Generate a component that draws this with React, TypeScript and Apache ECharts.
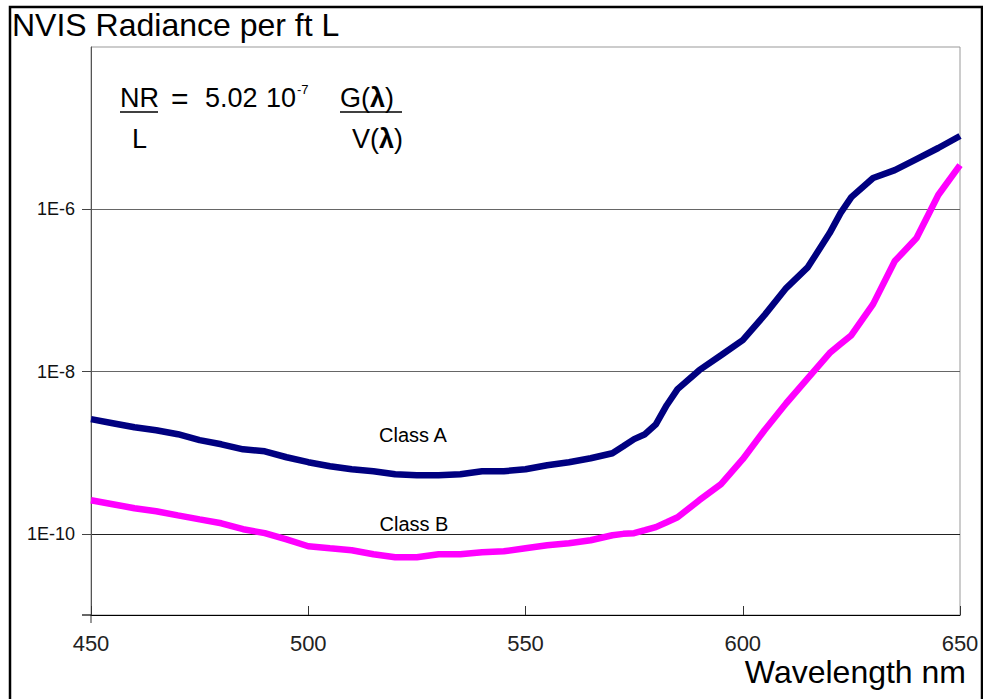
import React, { useEffect, useRef } from "react";
import * as echarts from "echarts";

const wavelengths = [450, 455, 460, 465, 470, 475, 480, 485, 490, 495, 500, 505, 510, 515, 520, 525, 530, 535, 540, 545, 550, 555, 560, 565, 570, 572.5, 575, 577.5, 580, 582.5, 585, 590, 595, 600, 605, 610, 615, 620, 622.5, 625, 630, 635, 640, 645, 650];

const classA = [2.59e-9, 2.31e-9, 2.06e-9, 1.89e-9, 1.69e-9, 1.43e-9, 1.27e-9, 1.10e-9, 1.04e-9, 8.79e-10, 7.64e-10, 6.82e-10, 6.25e-10, 5.92e-10, 5.43e-10, 5.28e-10, 5.28e-10, 5.43e-10, 5.92e-10, 5.92e-10, 6.25e-10, 7.01e-10, 7.64e-10, 8.55e-10, 9.86e-10, 1.20e-9, 1.47e-9, 1.69e-9, 2.24e-9, 3.85e-9, 6.07e-9, 1.04e-8, 1.59e-8, 2.44e-8, 4.95e-8, 1.07e-7, 1.94e-7, 5.09e-7, 8.97e-7, 1.41e-6, 2.43e-6, 3.04e-6, 4.16e-6, 5.69e-6, 8.0e-6];

const classB = [2.60e-10, 2.32e-10, 2.07e-10, 1.90e-10, 1.69e-10, 1.51e-10, 1.35e-10, 1.14e-10, 1.02e-10, 8.57e-11, 7.03e-11, 6.64e-11, 6.28e-11, 5.60e-11, 5.14e-11, 5.14e-11, 5.60e-11, 5.60e-11, 5.93e-11, 6.10e-11, 6.64e-11, 7.23e-11, 7.66e-11, 8.34e-11, 9.62e-11, 1.00e-10, 1.02e-10, 1.11e-10, 1.21e-10, 1.39e-10, 1.60e-10, 2.60e-10, 4.09e-10, 8.32e-10, 1.89e-9, 4.07e-9, 8.30e-9, 1.69e-8, 2.18e-8, 2.81e-8, 6.78e-8, 2.30e-7, 4.42e-7, 1.50e-6, 3.51e-6];

const xTicks = [450, 500, 550, 600, 650];
const yTickValues = [1e-10, 1e-8, 1e-6];
const seriesNames = ["Class A", "Class B"];

const FONT = "Liberation Sans";

export default function App() {
  const ref = useRef<HTMLDivElement>(null);

  useEffect(() => {
    if (!ref.current) return;
    const chart = echarts.init(ref.current, null, { renderer: "svg" });
    const txt = (x: number, y: number, text: string, size: number, extra: any = {}) => ({
      type: "text",
      x,
      y,
      style: {
        text,
        fontSize: size,
        fontFamily: FONT,
        fill: "#000",
        textAlign: "left",
        textVerticalAlign: "middle",
        ...extra,
      },
      z: 20,
    });
    const lambdaRich = { b: { fontWeight: "bold", fontSize: 27, fontFamily: FONT, fill: "#000" } };
    chart.setOption({
      animation: false,
      backgroundColor: "#fff",
      grid: { left: 91, right: 23, top: 47, bottom: 84, show: true, borderColor: "#999", borderWidth: 1 },
      xAxis: {
        type: "value",
        min: xTicks[0],
        max: xTicks[xTicks.length - 1],
        interval: 50,
        axisLine: { show: true, lineStyle: { color: "#000", width: 1.2 } },
        axisTick: { show: true, inside: true, length: 9, lineStyle: { color: "#333" } },
        axisLabel: { fontSize: 22, color: "#222", fontFamily: FONT, margin: 17 },
        splitLine: { show: false },
      },
      yAxis: {
        type: "log",
        logBase: 10,
        min: 1e-11,
        max: 1e-4,
        axisLine: { show: true, lineStyle: { color: "#555", width: 1 } },
        axisTick: { show: true, inside: false, length: 9, lineStyle: { color: "#444" }, customValues: yTickValues },
        axisLabel: {
          customValues: yTickValues,
          fontSize: 18,
          color: "#111",
          fontFamily: FONT,
          margin: 16,
          formatter: (v: number) => "1E" + Math.round(Math.log10(v)),
        },
        splitLine: { show: true, lineStyle: { color: ["#222", "#666", "#666"], width: 1.2 } },
      },
      series: [
        {
          name: seriesNames[0],
          type: "line",
          showSymbol: false,
          data: wavelengths.map((w, i) => [w, classA[i]]),
          lineStyle: { color: "#000080", width: 6.5 },
          itemStyle: { color: "#000080" },
          z: 5,
        },
        {
          name: seriesNames[1],
          type: "line",
          showSymbol: false,
          data: wavelengths.map((w, i) => [w, classB[i]]),
          lineStyle: { color: "#FF00FF", width: 6.5 },
          itemStyle: { color: "#FF00FF" },
          z: 5,
        },
      ],
      graphic: [
        {
          type: "rect",
          shape: { x: 10, y: 7, width: 972, height: 720 },
          style: { fill: "none", stroke: "#000", lineWidth: 2.5 },
          z: 30,
        },
        { type: "line", shape: { x1: 82, y1: 615, x2: 91, y2: 615 }, style: { stroke: "#000", lineWidth: 1.2 }, z: 10 },
        { type: "line", shape: { x1: 91, y1: 615, x2: 91, y2: 623 }, style: { stroke: "#333", lineWidth: 1 }, z: 10 },
        txt(12, 25, "NVIS Radiance per ft L", 32),
        txt(120, 98, "NR", 27),
        { type: "line", shape: { x1: 120, y1: 112, x2: 158, y2: 112 }, style: { stroke: "#000", lineWidth: 1.6 }, z: 20 },
        txt(171, 98, "=", 30),
        txt(205, 98, "5.02", 27),
        txt(266, 98, "10", 27),
        txt(297, 89, "-7", 13),
        txt(340, 98, "G({b|λ})", 27, { rich: lambdaRich }),
        { type: "line", shape: { x1: 340, y1: 112, x2: 402, y2: 112 }, style: { stroke: "#000", lineWidth: 1.6 }, z: 20 },
        txt(132, 139, "L", 27),
        txt(352, 139, "V({b|λ})", 27, { rich: lambdaRich }),
        txt(413, 435, "Class A", 20, { textAlign: "center" }),
        txt(414, 524, "Class B", 20, { textAlign: "center" }),
        txt(966, 672, "Wavelength nm", 32, { textAlign: "right" }),
      ],
    });
    return () => chart.dispose();
  }, []);

  return <div ref={ref} style={{ position: "absolute", left: 0, top: 0, width: 983, height: 699 }} />;
}
